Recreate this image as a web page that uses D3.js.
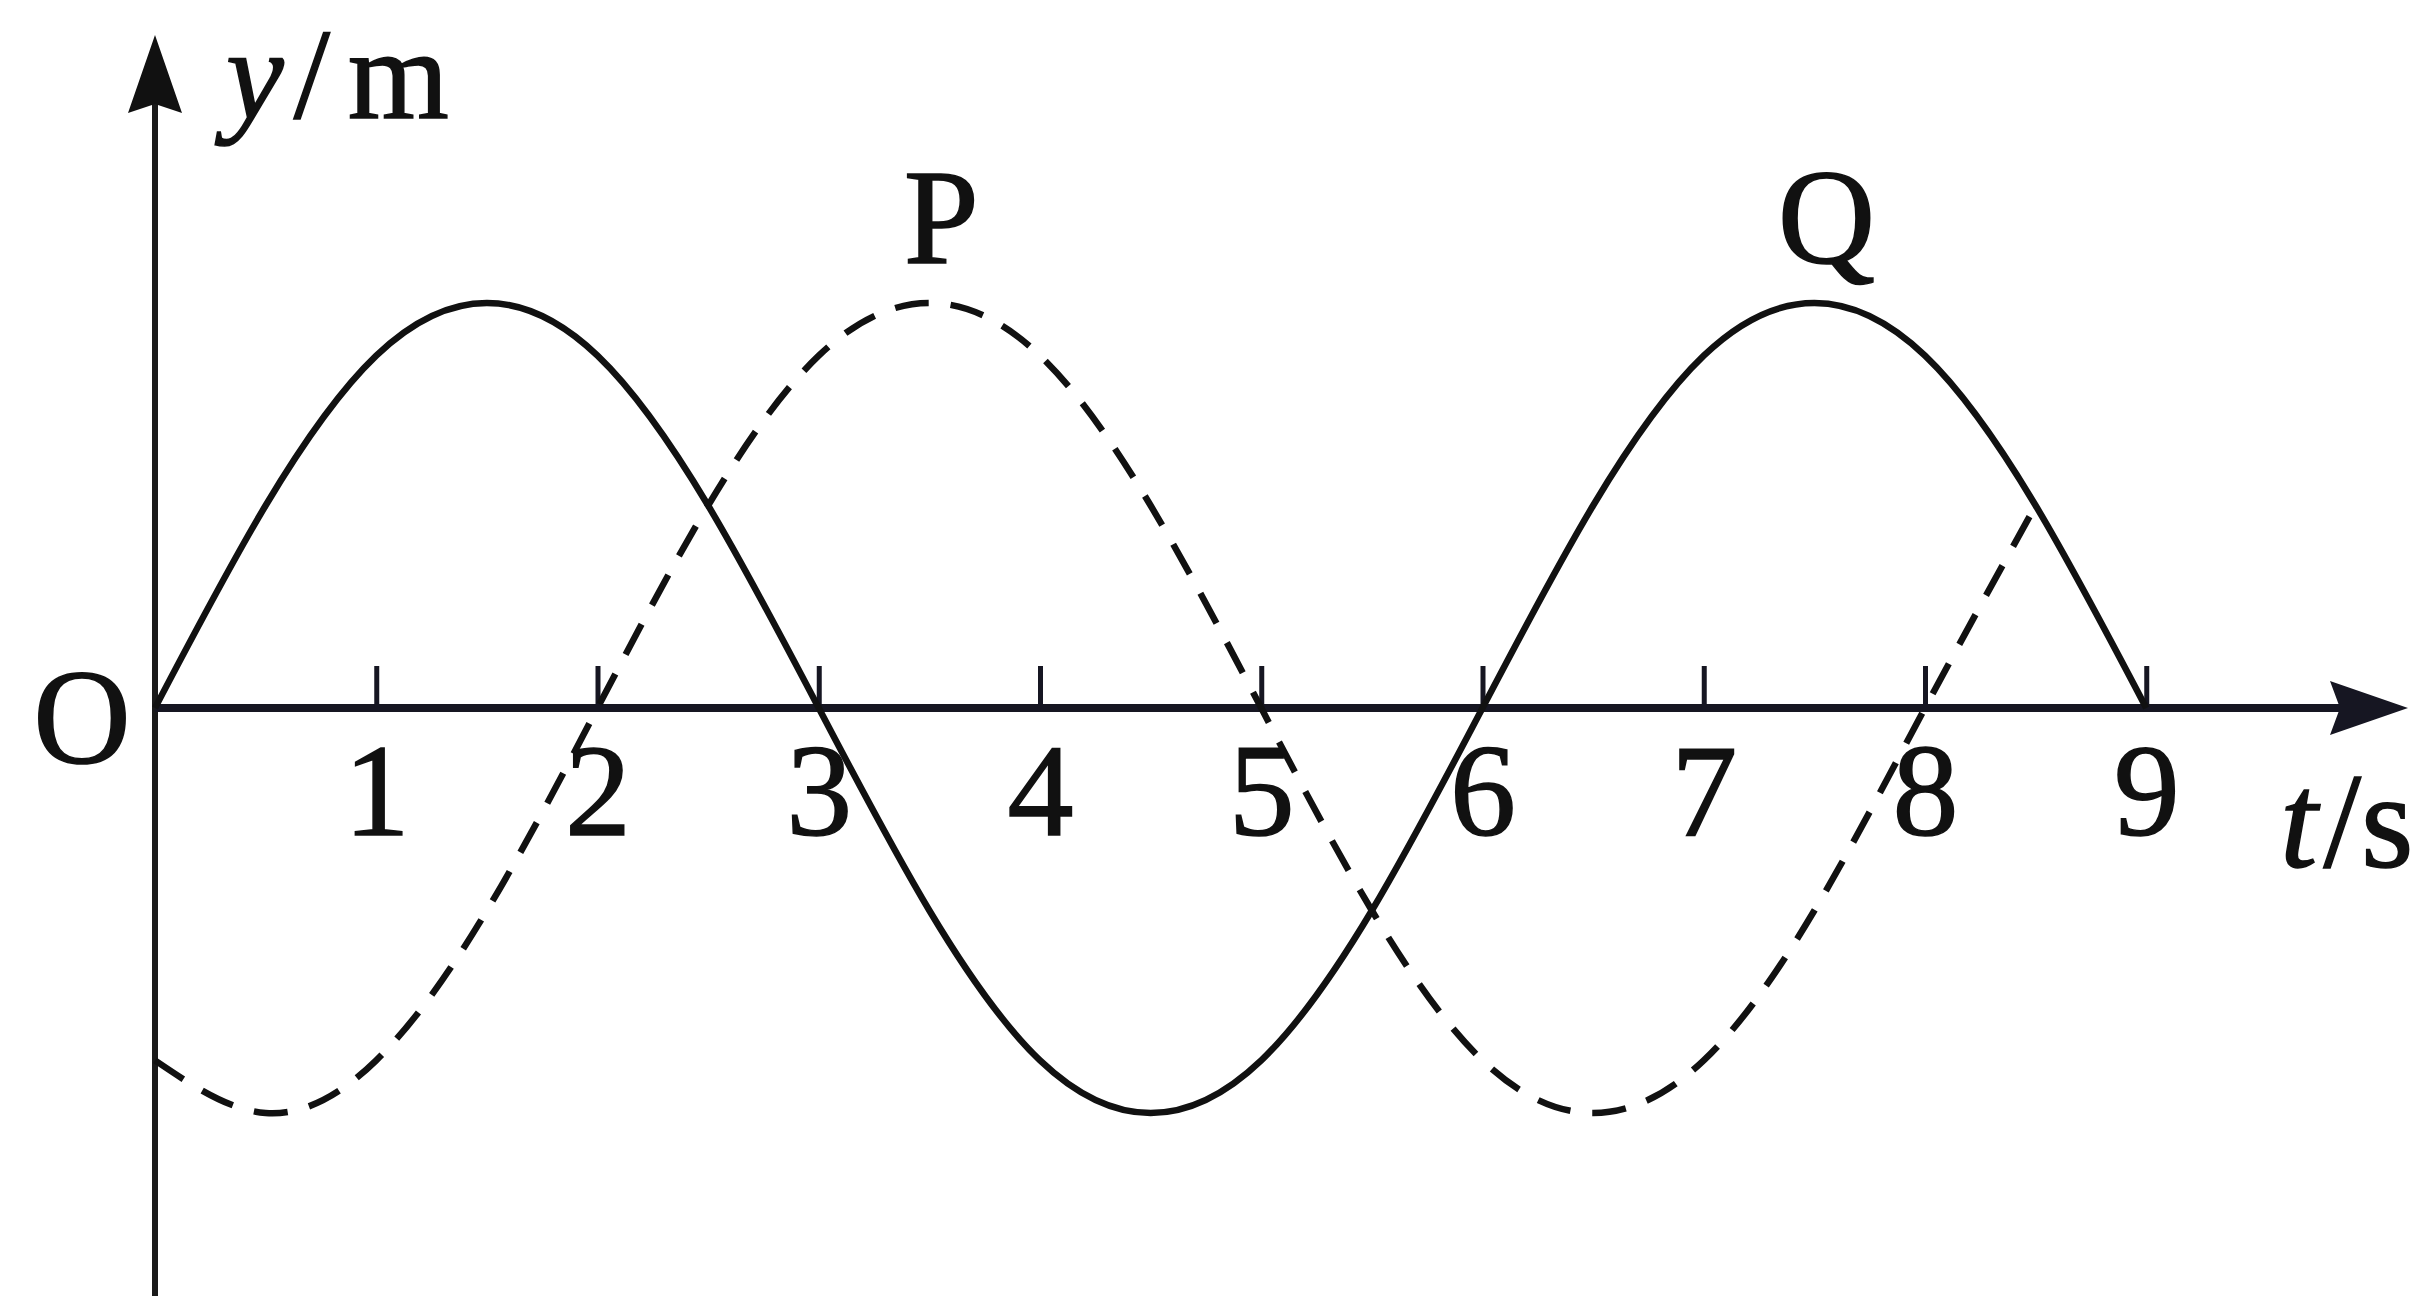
<!DOCTYPE html>
<html>
<head>
<meta charset="utf-8">
<script src="https://cdn.jsdelivr.net/npm/d3@7"></script>
<style>
  body { margin: 0; background: #fff; }
  svg { display: block; }
  text { font-family: "Liberation Serif", "Times New Roman", serif; fill: #111; stroke: #111; stroke-width: 1.5px; }
</style>
</head>
<body>
<div id="chart"></div>
<script>
// data (y in units of the amplitude)
var tTicks = [1, 2, 3, 4, 5, 6, 7, 8, 9];
var qTimes = [0, 0.5, 1, 1.5, 2, 2.5, 3, 3.5, 4, 4.5, 5, 5.5, 6, 6.5, 7, 7.5, 8, 8.5, 9];
var qValues = [0, 0.5, 0.87, 1, 0.87, 0.5, 0, -0.5, -0.87, -1, -0.87, -0.5, 0, 0.5, 0.87, 1, 0.87, 0.5, 0];
var pTimes = [0, 0.5, 1, 1.5, 2, 2.5, 3, 3.5, 4, 4.5, 5, 5.5, 6, 6.5, 7, 7.5, 8, 8.5];
var pValues = [-0.87, -1, -0.87, -0.5, 0, 0.5, 0.87, 1, 0.87, 0.5, 0, -0.5, -0.87, -1, -0.87, -0.5, 0, 0.5];
var curveLabels = [{name: "P", t: 3.5}, {name: "Q", t: 7.5}];

//Width and height
var w = 2423;
var h = 1302;
var x0 = 155;      // origin
var y0 = 708;
var unit = 221.25; // px per second
var amp = 405;
var ink = "#161622";

var xScale = d3.scaleLinear()
  .domain([0, 9])
  .range([x0, x0 + 9 * unit]);

var yScale = d3.scaleLinear()
  .domain([-1, 1])
  .range([y0 + amp, y0 - amp]);

var svg = d3.select("#chart")
  .append("svg")
  .attr("width", w)
  .attr("height", h);

svg.append("rect")
  .attr("width", w)
  .attr("height", h)
  .attr("fill", "#fff");

//y axis line + arrow
svg.append("line")
  .attr("x1", x0).attr("x2", x0)
  .attr("y1", h - 6).attr("y2", 100)
  .attr("stroke", "#1a1a1a")
  .attr("stroke-width", 6);

svg.append("path")
  .attr("d", "M" + x0 + ",35 L" + (x0 + 27) + ",113 L" + x0 + ",104 L" + (x0 - 27) + ",113 Z")
  .attr("fill", "#111");

//x axis line + arrow
var xEnd = w - 15;
svg.append("line")
  .attr("x1", x0).attr("x2", xEnd - 60)
  .attr("y1", y0).attr("y2", y0)
  .attr("stroke", ink)
  .attr("stroke-width", 8);

svg.append("path")
  .attr("d", "M" + xEnd + "," + y0 + " L" + (xEnd - 78) + "," + (y0 - 27) + " L" + (xEnd - 68) + "," + y0 + " L" + (xEnd - 78) + "," + (y0 + 27) + " Z")
  .attr("fill", ink);

//ticks above the axis, labels below
var xAxis = d3.axisBottom()
  .scale(xScale)
  .tickValues(tTicks)
  .tickSize(-42)
  .tickSizeOuter(0)
  .tickFormat(d3.format("d"));

var gx = svg.append("g")
  .attr("class", "x axis")
  .attr("transform", "translate(0," + y0 + ")")
  .call(xAxis);

gx.select(".domain").remove();
gx.selectAll(".tick line")
  .attr("stroke", ink)
  .attr("stroke-width", 5);
gx.selectAll(".tick text")
  .attr("y", 127)
  .attr("dy", null)
  .attr("fill", "#111")
  .style("font-family", "'Liberation Serif', 'Times New Roman', serif")
  .style("font-size", "132px");

//curves
var line = d3.line()
  .x(function(d) { return xScale(d[0]); })
  .y(function(d) { return yScale(d[1]); })
  .curve(d3.curveNatural);

svg.append("path")
  .datum(qTimes.map(function(t, i) { return [t, qValues[i]]; }))
  .attr("d", line)
  .attr("fill", "none")
  .attr("stroke", "#111")
  .attr("stroke-width", 6.5);

svg.append("path")
  .datum(pTimes.map(function(t, i) { return [t, pValues[i]]; }))
  .attr("d", line)
  .attr("fill", "none")
  .attr("stroke", "#111")
  .attr("stroke-width", 6.5)
  .attr("stroke-dasharray", "34,22");

//labels
svg.selectAll("text.curve")
  .data(curveLabels)
  .enter()
  .append("text")
  .attr("class", "curve")
  .attr("x", function(d) { return xScale(d.t) + 12; })
  .attr("y", function(d) { return yScale(1) - 40; })
  .attr("text-anchor", "middle")
  .style("font-size", "135px")
  .text(function(d) { return d.name; });

svg.append("text")
  .attr("x", 82)
  .attr("y", y0 + 55)
  .attr("text-anchor", "middle")
  .style("font-size", "135px")
  .text("O");

var yLab = svg.append("text")
  .attr("x", 226)
  .attr("y", 118)
  .style("font-size", "130px");
yLab.append("tspan").style("font-style", "italic").text("y");
yLab.append("tspan").attr("dx", 10).text("/");
yLab.append("tspan").attr("dx", 18).text("m");

var tLab = svg.append("text")
  .attr("x", 2280)
  .attr("y", 867)
  .style("font-size", "135px");
tLab.append("tspan").style("font-style", "italic").text("t");
tLab.append("tspan").attr("dx", 6).text("/s");
</script>
</body>
</html>
